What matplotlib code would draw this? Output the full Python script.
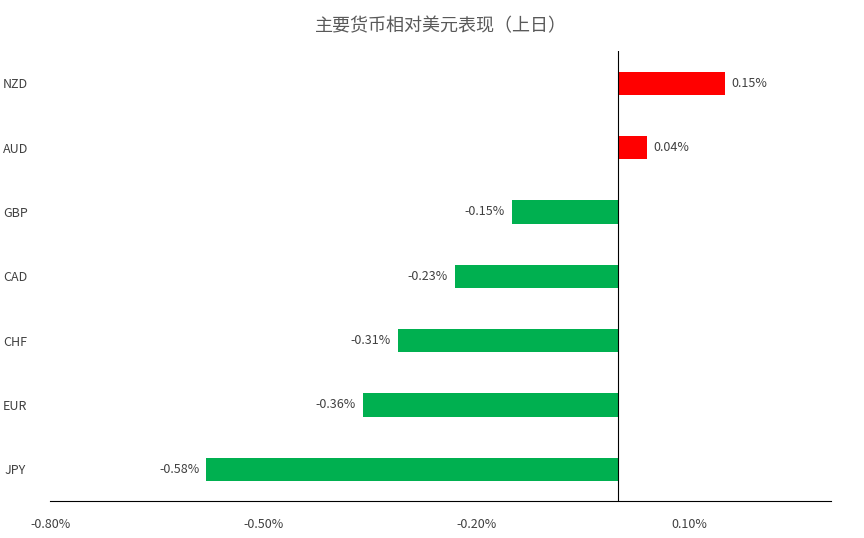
import matplotlib.pyplot as plt
from matplotlib.ticker import FuncFormatter

plt.rcParams['font.family'] = ['Noto Sans CJK SC', 'DejaVu Sans']

currencies = ['JPY', 'EUR', 'CHF', 'CAD', 'GBP', 'AUD', 'NZD']
changes = [-0.58, -0.36, -0.31, -0.23, -0.15, 0.04, 0.15]
xticks = [-0.80, -0.50, -0.20, 0.10]

colors = ['#ff0000' if v > 0 else '#00b050' for v in changes]

fig, ax = plt.subplots(figsize=(8.64, 5.38), dpi=100)
fig.subplots_adjust(left=0.058, right=0.962, top=0.905, bottom=0.068)

ax.barh(currencies, changes, height=0.36, color=colors)
for i, v in enumerate(changes):
    if v > 0:
        ax.text(v + 0.01, i, f'{v:.2f}%', va='center', ha='left', fontsize=9, color='#404040')
    else:
        ax.text(v - 0.01, i, f'{v:.2f}%', va='center', ha='right', fontsize=9, color='#404040')

ax.set_xlim(-0.80, 0.30)
ax.set_ylim(-0.5, 6.5)
ax.set_xticks(xticks)
ax.xaxis.set_major_formatter(FuncFormatter(lambda x, p: f'{x:.2f}%'))
ax.axvline(0, color='black', linewidth=0.8)

for s in ['top', 'right', 'left']:
    ax.spines[s].set_visible(False)
ax.spines['bottom'].set_linewidth(0.8)
ax.tick_params(axis='both', length=0, labelsize=9, colors='#404040')
ax.tick_params(axis='x', pad=12)
ax.tick_params(axis='y', pad=14)
for lab in ax.get_yticklabels():
    lab.set_horizontalalignment('center')
ax.yaxis.set_tick_params(pad=25)

ax.set_title('主要货币相对美元表现（上日）', fontsize=13, color='#595959', pad=14)

fig.savefig('out.png', dpi=100)
